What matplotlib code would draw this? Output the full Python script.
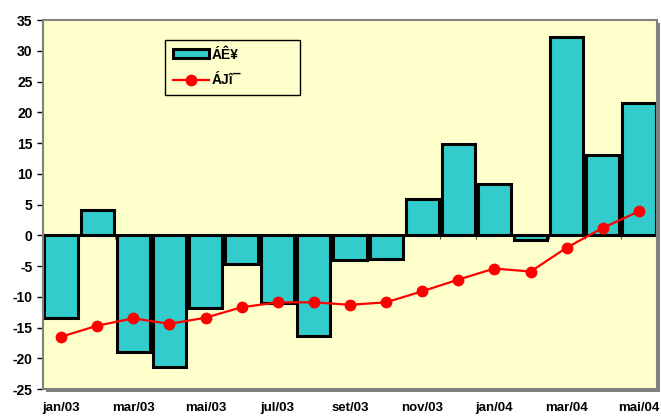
import matplotlib
matplotlib.use("Agg")
import matplotlib.pyplot as plt
from matplotlib.patches import Rectangle
import numpy as np

months = ["jan/03", "fev/03", "mar/03", "abr/03", "mai/03", "jun/03", "jul/03", "ago/03",
          "set/03", "out/03", "nov/03", "dez/03", "jan/04", "fev/04", "mar/04", "abr/04", "mai/04"]
bar_vals = [-13.4, 4.1, -19.0, -21.4, -11.9, -4.6, -11.0, -16.3,
            -4.0, -3.9, 5.9, 14.8, 8.3, -0.8, 32.3, 13.0, 21.5]
line_vals = [-16.5, -14.7, -13.5, -14.4, -13.4, -11.7, -10.9, -10.9,
             -11.3, -10.9, -9.1, -7.2, -5.4, -5.9, -2.0, 1.2, 3.9]
bar_label = "ÁÊ¥"
line_label = "ÁJî¯"

plt.rcParams['font.family'] = ['Liberation Sans', 'DejaVu Sans']
plt.rcParams['font.weight'] = 'bold'
plt.rcParams['axes.unicode_minus'] = False

fig = plt.figure(figsize=(6.61, 4.17), dpi=100)
ax = fig.add_axes([0.065, 0.067, 0.929, 0.885])

# shadow behind plot area
shadow = Rectangle((0.065 + 3/661, 0.067 - 3/417), 0.929, 0.885,
                   transform=fig.transFigure, facecolor="#808080", edgecolor="none", zorder=-1)
fig.patches.append(shadow)

ax.set_facecolor("#FFFFCC")
x = np.arange(len(months))
bars = ax.bar(x, bar_vals, width=0.92, color="#33CCCC", edgecolor="black", linewidth=2.2,
              label=bar_label, zorder=2)
line, = ax.plot(x, line_vals, color="#FF0000", linewidth=1.6, marker="o", markersize=7.5,
                label=line_label, zorder=3)

ax.set_xlim(-0.5, len(months) - 0.5)
ax.set_ylim(-25, 35)
ax.set_yticks(range(-25, 36, 5))
ax.set_xticks(x[::2])
ax.set_xticklabels(months[::2], fontsize=9.5, fontweight="bold")
ax.tick_params(axis="x", length=0, pad=9)
ax.tick_params(axis="y", direction="out", length=4, width=1, labelsize=10, colors="black")
for lbl in ax.get_yticklabels():
    lbl.set_fontweight("bold")

# small category ticks on the zero line
ax.vlines(np.arange(len(months) + 1) - 0.5, 0, -0.6, color="#555555", linewidth=0.8, zorder=1)

for s in ax.spines.values():
    s.set_color("#808080")
    s.set_linewidth(1.5)

leg = ax.legend([bars, line], [bar_label, line_label],
                loc="upper left", bbox_to_anchor=(0.199, 0.806, 0.22, 0.14), mode="expand",
                frameon=True, fancybox=False, edgecolor="black", facecolor="#FFFFCC",
                framealpha=1, prop={"weight": "bold", "size": 10}, handlelength=2.6,
                handleheight=0.6, borderpad=0.55, labelspacing=0.85, handletextpad=0.2,
                borderaxespad=0)
leg.get_frame().set_linewidth(1.0)

fig.savefig("out.png", dpi=100)
